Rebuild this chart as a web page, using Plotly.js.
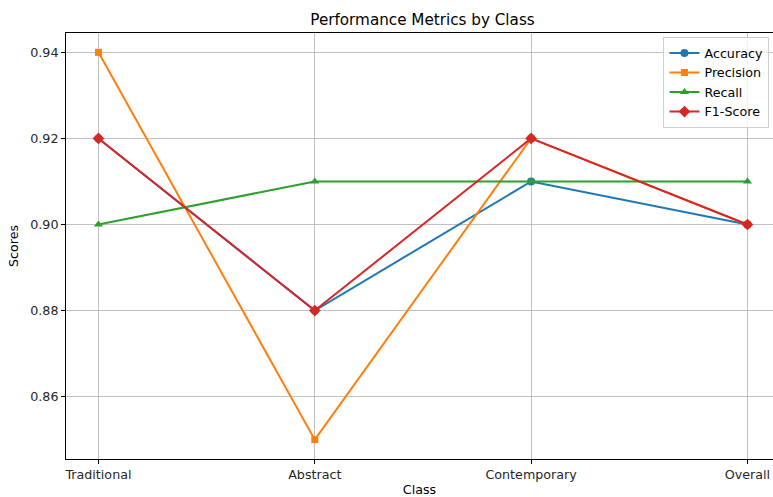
<!DOCTYPE html>
<html>
<head>
<meta charset="utf-8">
<script src="https://cdn.plot.ly/plotly-3.0.1.min.js"></script>
<style>html,body{margin:0;padding:0;background:#fff;}#chart{width:773px;height:497px;}</style>
</head>
<body>
<div id="chart"></div>
<script>
const classes = ["Traditional", "Abstract", "Contemporary", "Overall"];
const accuracy = [0.92, 0.88, 0.91, 0.90];
const precision = [0.94, 0.85, 0.92, 0.90];
const recall = [0.90, 0.91, 0.91, 0.91];
const f1 = [0.92, 0.88, 0.92, 0.90];
const yTicks = [0.86, 0.88, 0.90, 0.92, 0.94];

const series = [
  {name: "Accuracy", y: accuracy, color: "#1f77b4", symbol: "circle", size: 8},
  {name: "Precision", y: precision, color: "#ff7f0e", symbol: "square", size: 7},
  {name: "Recall", y: recall, color: "#2ca02c", symbol: "triangle-up", size: 8},
  {name: "F1-Score", y: f1, color: "#d62728", symbol: "diamond", size: 9}
];
const xIdx = classes.map((c, i) => i);
const traces = series.map(s => ({
  type: "scatter", mode: "lines+markers", name: s.name,
  x: xIdx, y: s.y,
  line: {color: s.color, width: 2},
  marker: {color: s.color, symbol: s.symbol, size: s.size}
}));

const font = "DejaVu Sans, sans-serif";
const fs = 12.7;
const layout = {
  width: 773, height: 497,
  margin: {l: 66, r: 0, t: 33, b: 38},
  paper_bgcolor: "#fff", plot_bgcolor: "#fff",
  font: {family: font, size: fs, color: "#262626"},
  title: {text: "Performance Metrics by Class", font: {family: font, size: 15.2, color: "#000"},
          x: 422.5/773, xanchor: "center", xref: "container", y: 1 - 20/497, yanchor: "middle", yref: "container"},
  xaxis: {
    range: [-0.15, -0.15 + 707/216.33],
    tickvals: xIdx, ticktext: classes,
    showgrid: true, gridcolor: "#b0b0b0", gridwidth: 0.8,
    showline: true, linecolor: "#000", linewidth: 1, mirror: true,
    ticks: "outside", ticklen: 4, tickcolor: "#000",
    zeroline: false,
    tickfont: {family: font, size: fs, color: "#262626"},
    title: {text: "Class", font: {family: font, size: fs, color: "#000"}, standoff: 5}
  },
  yaxis: {
    range: [0.8455, 0.9445],
    tickvals: yTicks, ticktext: yTicks.map(v => v.toFixed(2)),
    showgrid: true, gridcolor: "#b0b0b0", gridwidth: 0.8,
    showline: true, linecolor: "#000", linewidth: 1,
    ticks: "outside", ticklen: 4, tickcolor: "#000",
    zeroline: false,
    tickfont: {family: font, size: fs, color: "#262626"},
    title: {text: "Scores", font: {family: font, size: fs, color: "#000"}, standoff: 8}
  },
  showlegend: true,
  legend: {
    x: 0.995, y: 0.99, xanchor: "right", yanchor: "top",
    bgcolor: "rgba(255,255,255,0.8)", bordercolor: "#d0d0d0", borderwidth: 1,
    font: {family: font, size: fs, color: "#000"},
    tracegroupgap: 0, itemwidth: 30
  }
};
Plotly.newPlot("chart", traces, layout, {displayModeBar: false, staticPlot: true});
</script>
</body>
</html>
